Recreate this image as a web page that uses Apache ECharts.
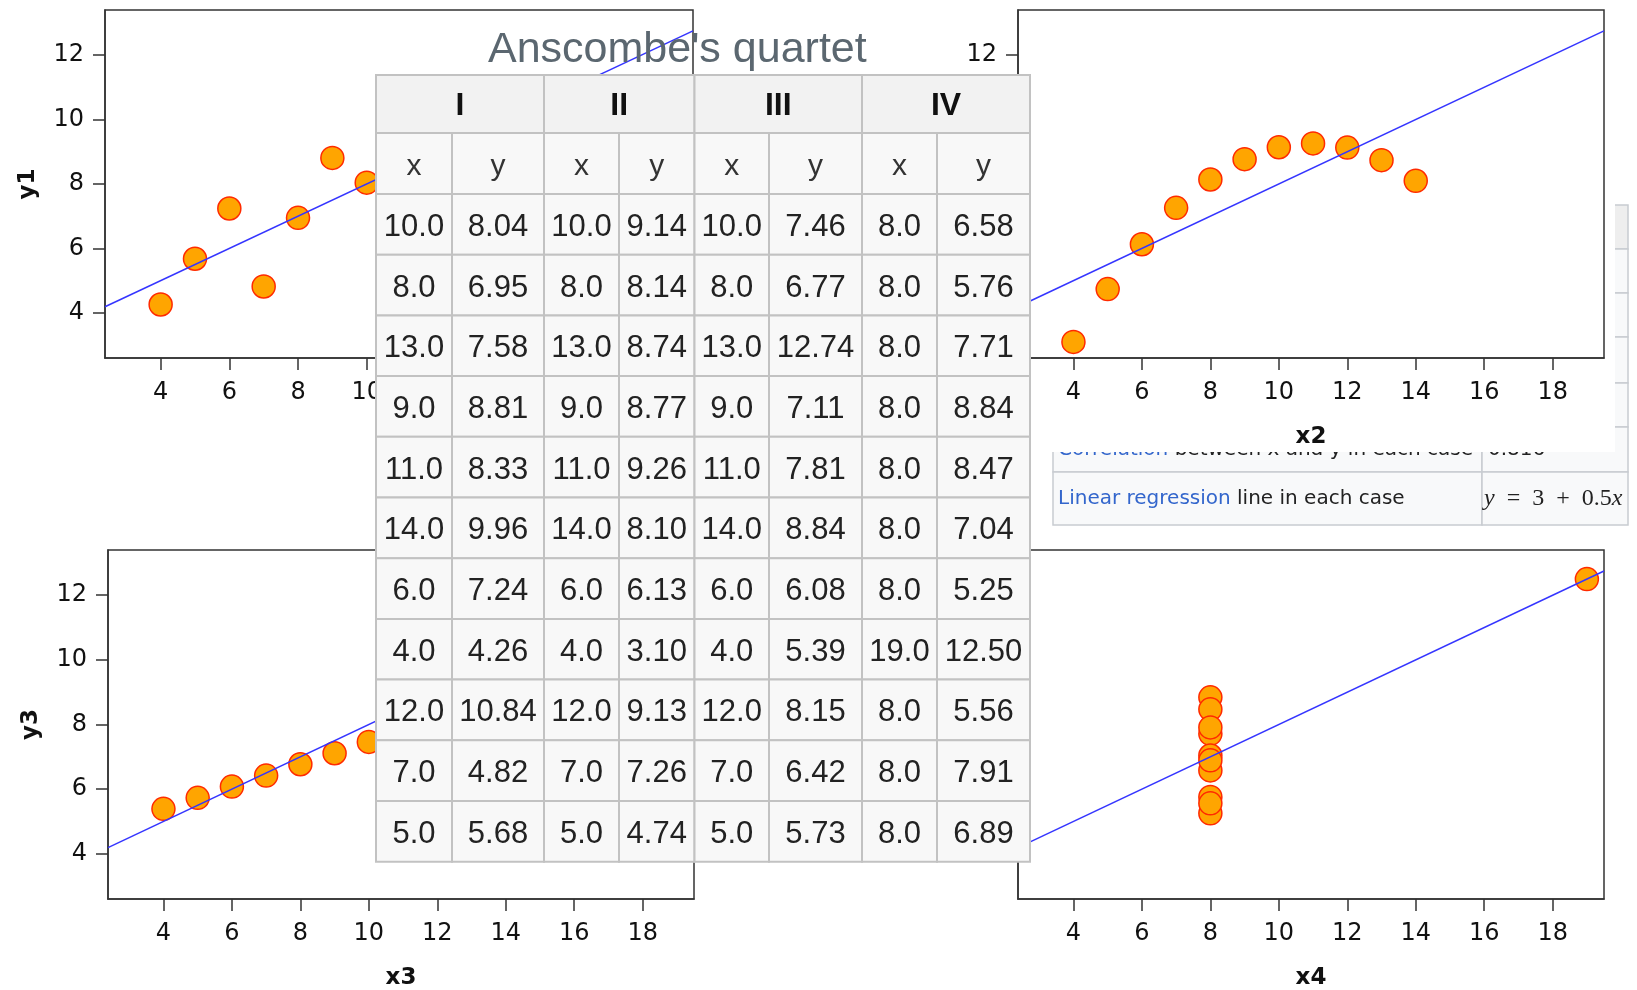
<!DOCTYPE html>
<html><head><meta charset="utf-8">
<script src="https://cdn.jsdelivr.net/npm/echarts@6/dist/echarts.min.js"></script>
<style>html,body{margin:0;padding:0;background:#fff}#main{width:1637px;height:990px}</style>
</head><body><div id="main"></div>
<script>
// ---- data ----
const titleText = "Anscombe's quartet";
const quartetNames = ['I', 'II', 'III', 'IV'];
const x1 = [10, 8, 13, 9, 11, 14, 6, 4, 12, 7, 5];
const y1 = [8.04, 6.95, 7.58, 8.81, 8.33, 9.96, 7.24, 4.26, 10.84, 4.82, 5.68];
const x2 = [10, 8, 13, 9, 11, 14, 6, 4, 12, 7, 5];
const y2 = [9.14, 8.14, 8.74, 8.77, 9.26, 8.10, 6.13, 3.10, 9.13, 7.26, 4.74];
const x3 = [10, 8, 13, 9, 11, 14, 6, 4, 12, 7, 5];
const y3 = [7.46, 6.77, 12.74, 7.11, 7.81, 8.84, 6.08, 5.39, 8.15, 6.42, 5.73];
const x4 = [8, 8, 8, 8, 8, 8, 8, 19, 8, 8, 8];
const y4 = [6.58, 5.76, 7.71, 8.84, 8.47, 7.04, 5.25, 12.50, 5.56, 7.91, 6.89];
// regression line end points
const regLineX = [2.38, 19.5];
const regLineY = [4.19, 12.75];
const xTicks = [4, 6, 8, 10, 12, 14, 16, 18];
const yTicks = [4, 6, 8, 10, 12];
const xNames = ['x1', 'x2', 'x3', 'x4'];
const yNames = ['y1', 'y2', 'y3', 'y4'];
// wikipedia summary table remnant
const corrLabel = 'Correlation';
const corrRest = ' between x and y in each case';
const corrValue = '0.816';
const regLabel = 'Linear regression';
const regRest = ' line in each case';

// ---- layout ----
const X_MIN = 2.38, X_MAX = 19.5, Y_MIN = 2.6, Y_MAX = 13.4;
const gridBoxes = [
  {left: 105, top: 10, width: 588, height: 348},
  {left: 1018, top: 10, width: 586, height: 348},
  {left: 108, top: 550, width: 586, height: 349},
  {left: 1018, top: 550, width: 586, height: 349}
];
const xs = [x1, x2, x3, x4], ys = [y1, y2, y3, y4];
const tickFont = 'DejaVu Sans';

const grid = [], xAxis = [], yAxis = [], series = [];
gridBoxes.forEach((g, i) => {
  grid.push(Object.assign({show: true, borderColor: '#333', borderWidth: 1.5, backgroundColor: 'transparent', containLabel: false, outerBoundsMode: 'none'}, g));
  xAxis.push({
    gridIndex: i, type: 'value', min: X_MIN, max: X_MAX, z: 3,
    name: xNames[i], nameLocation: 'middle', nameGap: 68,
    nameTextStyle: {fontFamily: tickFont, fontSize: 23, fontWeight: 'bold', color: '#111'},
    axisLine: {show: true, onZero: false, lineStyle: {color: '#333', width: 1.5}},
    axisTick: {show: true, length: 12, customValues: xTicks, lineStyle: {color: '#333', width: 1.5}},
    axisLabel: {customValues: xTicks, margin: 23, fontFamily: tickFont, fontSize: 24, color: '#111'},
    splitLine: {show: false}
  });
  yAxis.push({
    gridIndex: i, type: 'value', min: Y_MIN, max: Y_MAX, z: 3,
    name: yNames[i], nameLocation: 'middle', nameGap: 65,
    nameTextStyle: {fontFamily: tickFont, fontSize: 23, fontWeight: 'bold', color: '#111'},
    axisLine: {show: true, onZero: false, lineStyle: {color: '#333', width: 1.5}},
    axisTick: {show: true, length: 12, customValues: yTicks, lineStyle: {color: '#333', width: 1.5}},
    axisLabel: {customValues: yTicks, margin: 21, fontFamily: tickFont, fontSize: 24, color: '#111'},
    splitLine: {show: false}
  });
  series.push({
    type: 'scatter', xAxisIndex: i, yAxisIndex: i, z: 4, silent: true,
    data: xs[i].map((v, k) => [v, ys[i][k]]),
    symbolSize: 23,
    itemStyle: {color: '#ffa500', borderColor: '#ff2a00', borderWidth: 1.5, opacity: 1}
  });
  series.push({
    type: 'line', xAxisIndex: i, yAxisIndex: i, z: 5, silent: true,
    data: regLineX.map((v, k) => [v, regLineY[k]]),
    showSymbol: false, symbol: 'none',
    lineStyle: {color: '#3535ff', width: 1.5}
  });
});

// ---- graphic: tables ----
const graphics = [];
function txt(x, y, text, font, fill, z, align, extra) {
  const st = Object.assign({text: text, font: font, fill: fill, textAlign: align || 'center', align: align || 'center', textVerticalAlign: 'middle', verticalAlign: 'middle'}, extra || {});
  return {type: 'text', x: x, y: y, z: z, silent: true, style: st};
}
function rect(x, y, w, h, fill, stroke, lw, z) {
  return {type: 'rect', z: z, silent: true, shape: {x: x, y: y, width: w, height: h}, style: {fill: fill, stroke: stroke, lineWidth: lw}};
}

// wikipedia table remnant (bottom layer)
const wL = 1053, wR = 1628, wDiv = 1482;
const wRows = [205, 249, 293, 337, 383, 427, 472, 525];
for (let r = 0; r < wRows.length - 1; r++) {
  const fill = r === 0 ? '#eeeeee' : '#f8f9fa';
  graphics.push(rect(wL, wRows[r], wDiv - wL, wRows[r + 1] - wRows[r], fill, '#c8ccd1', 1.5, -6));
  graphics.push(rect(wDiv, wRows[r], wR - wDiv, wRows[r + 1] - wRows[r], fill, '#c8ccd1', 1.5, -6));
}
const wikiFont = '20px "DejaVu Sans"';
graphics.push(txt(1058, 450, '{a|' + corrLabel + '}' + corrRest, wikiFont, '#222', -5, 'left', {rich: {a: {fill: '#3366cc', font: wikiFont}}}));
graphics.push(txt(1488, 450, corrValue, wikiFont, '#222', -5, 'left'));
graphics.push(txt(1058, 499, '{a|' + regLabel + '}' + regRest, wikiFont, '#222', -5, 'left', {rich: {a: {fill: '#3366cc', font: wikiFont}}}));
graphics.push(txt(1484, 499, '{i|y}\u2002=\u20023\u2002+\u20020.5{i|x}', '24px "Liberation Serif"', '#222', -5, 'left',
  {rich: {i: {font: 'italic 24px "Liberation Serif"', fill: '#222'}}}));

// white background of the top-right plot image (covers most of wiki table)
graphics.push(rect(940, 0, 675, 452, '#ffffff', null, 0, -4));

// main data table (top layer)
const cX = [376, 452, 544, 619, 694.5, 769, 862, 937, 1030];
const rTop = 75, rHead = 133, rSub = 194, rowH = 60.7;
const tblStroke = '#c2c2c2';
for (let q = 0; q < 4; q++) {
  graphics.push(rect(cX[2 * q], rTop, cX[2 * q + 2] - cX[2 * q], rHead - rTop, '#f2f2f2', tblStroke, 2, 20));
  graphics.push(txt((cX[2 * q] + cX[2 * q + 2]) / 2, (rTop + rHead) / 2 + 2, quartetNames[q], 'bold 32px "Liberation Sans"', '#111', 22));
}
for (let c = 0; c < 8; c++) {
  graphics.push(rect(cX[c], rHead, cX[c + 1] - cX[c], rSub - rHead, '#f8f8f8', tblStroke, 2, 20));
  graphics.push(txt((cX[c] + cX[c + 1]) / 2, (rHead + rSub) / 2 + 3, c % 2 === 0 ? 'x' : 'y', '30px "Liberation Sans"', '#333', 22));
}
for (let r = 0; r < x1.length; r++) {
  const y0 = rSub + r * rowH;
  for (let c = 0; c < 8; c++) {
    const q = Math.floor(c / 2);
    const val = c % 2 === 0 ? xs[q][r].toFixed(1) : ys[q][r].toFixed(2);
    graphics.push(rect(cX[c], y0, cX[c + 1] - cX[c], rowH, '#f8f8f8', tblStroke, 2, 20));
    graphics.push(txt((cX[c] + cX[c + 1]) / 2, y0 + rowH / 2 + 3, val, '31px "Liberation Sans"', '#222', 22));
  }
}

const chart = echarts.init(document.getElementById('main'), null, {renderer: 'canvas'});
chart.setOption({
  animation: false,
  backgroundColor: '#fff',
  title: {text: titleText, left: 488, top: 29, padding: 0,
    textStyle: {fontFamily: 'Liberation Sans', fontSize: 43, fontWeight: 'normal', color: '#5b6770'}},
  grid: grid, xAxis: xAxis, yAxis: yAxis, series: series,
  graphic: {elements: graphics}
});
</script></body></html>
